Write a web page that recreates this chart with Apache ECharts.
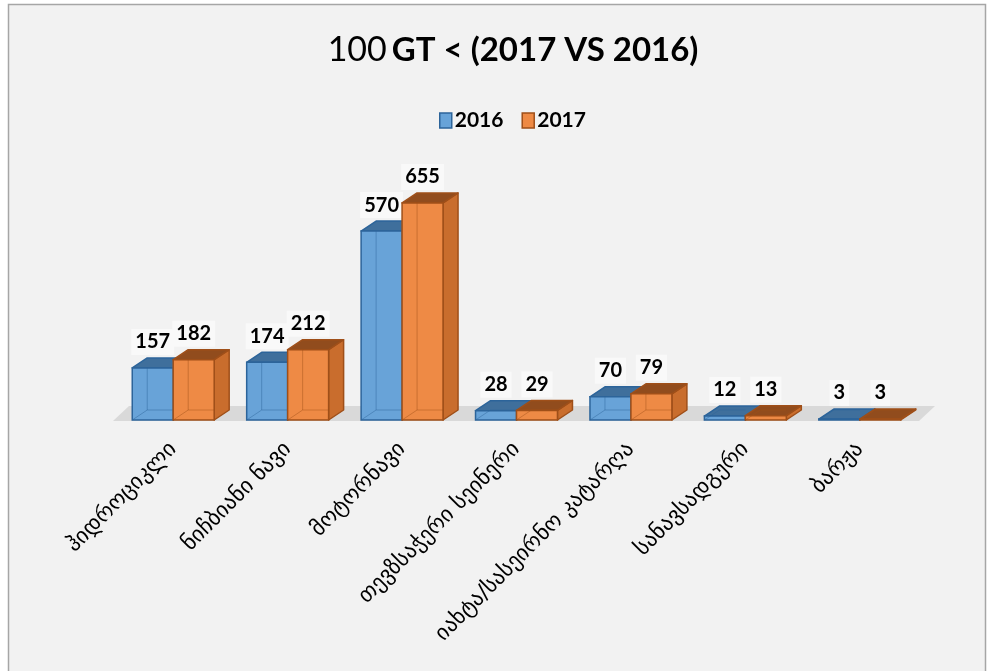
<!DOCTYPE html>
<html>
<head>
<meta charset="utf-8">
<script src="https://cdn.jsdelivr.net/npm/echarts@6/dist/echarts.min.js"></script>
<style>
    html, body { margin: 0; padding: 0; background: #ffffff; }
    #container { width: 994px; height: 671px; }
</style>
</head>
<body>
<div id="container"></div>
<script>
// 数据
var categories = ['ჰიდროციკლი', 'ნიჩბიანი ნავი', 'მოტორნავი', 'თევზსაჭერი სეინერი', 'იახტა/სასეირნო კატარღა', 'სანავსადგური', 'ბარჟა']
var values2016 = [157, 174, 570, 28, 70, 12, 3]
var values2017 = [182, 212, 655, 29, 79, 13, 3]
var seriesNames = ['2016', '2017']

var log = console.log.bind(console)

// 3D 柱子的颜色
var palette = {
    '2016': { front: '#68a3d8', side: '#4f86ba', top: '#3f6f9c', stroke: '#2c649a', inner: 'rgba(44,100,154,0.45)' },
    '2017': { front: '#ee8a45', side: '#c96d2d', top: '#914c1d', stroke: '#9f4f19', inner: 'rgba(159,79,25,0.45)' },
}

var depthX = 15
var depthY = -10

var barRender = function (pos, c) {
    return function (params, api) {
        var idx = api.value(0)
        var v = api.value(1)
        var base = api.coord([idx, 0])
        var top = api.coord([idx, v])
        var band = api.size([1, 0])[0]
        var w = band * 0.358
        var x0 = pos == 0 ? base[0] - w : base[0]
        var x1 = x0 + w
        var yb = base[1]
        var yt = top[1]
        var dx = depthX
        var dy = depthY
        return {
            type: 'group',
            children: [
                {
                    type: 'polygon',
                    shape: { points: [[x1, yb], [x1 + dx, yb + dy], [x1 + dx, yt + dy], [x1, yt]] },
                    style: { fill: c.side, stroke: c.stroke, lineWidth: 1.5, lineJoin: 'round' },
                },
                {
                    type: 'polygon',
                    shape: { points: [[x0, yt], [x0 + dx, yt + dy], [x1 + dx, yt + dy], [x1, yt]] },
                    style: { fill: c.top, stroke: c.stroke, lineWidth: 1.5, lineJoin: 'round' },
                },
                {
                    type: 'rect',
                    shape: { x: x0, y: yt, width: w, height: yb - yt },
                    style: { fill: c.front, stroke: c.stroke, lineWidth: 1.5 },
                },
                // 透明感的内侧边
                {
                    type: 'polyline',
                    shape: { points: [[x0 + dx, Math.min(yt, yb + dy)], [x0 + dx, yb + dy], [x1, yb + dy]] },
                    style: { fill: null, stroke: c.inner, lineWidth: 1 },
                    silent: true,
                },
                {
                    type: 'line',
                    shape: { x1: x0, y1: yb, x2: x0 + dx, y2: yb + dy },
                    style: { stroke: c.inner, lineWidth: 1 },
                    silent: true,
                },
                {
                    type: 'text',
                    z2: 10,
                    style: {
                        text: String(v),
                        x: (x0 + x1) / 2,
                        y: yt + dy - 16,
                        align: 'center',
                        verticalAlign: 'middle',
                        font: 'bold 20px Lato, "Open Sans", sans-serif',
                        fill: '#000000',
                        backgroundColor: '#f9f9f9',
                        padding: [3, 4, 3, 4],
                        boxShadowBlur: 8,
                        boxShadowOffsetX: 5,
                        boxShadowColor: 'rgba(0,0,0,0.3)',
                    },
                },
            ],
        }
    }
}

var floorRender = function (params, api) {
    var cs = params.coordSys
    var yf = cs.y + cs.height + 1
    var xl = cs.x - 3
    var xr = cs.x + cs.width + 2
    return {
        type: 'polygon',
        silent: true,
        shape: { points: [[xl, yf], [xl + 16, yf - 15], [xr + 16, yf - 15], [xr, yf]] },
        style: { fill: '#d9d9d9' },
    }
}

var makeData = function (values) {
    var data = []
    for (var i = 0; i < values.length; i++) {
        data.push([i, values[i]])
    }
    return data
}

var chartInit = function () {
    var myChart = echarts.init(document.getElementById('container'))

    var option = {
        backgroundColor: '#ffffff',
        graphic: [{
            type: 'rect',
            silent: true,
            z: -10,
            shape: { x: 8.5, y: 4.5, width: 977, height: 680 },
            style: { fill: '#f2f2f2', stroke: '#a6a6a6', lineWidth: 1.5 },
        }],
        title: {
            text: '{a|100} {b|GT < (2017 VS 2016)}',
            left: 508,
            textAlign: 'center',
            top: 28,
            textStyle: {
                rich: {
                    a: { fontSize: 34, fontWeight: 'normal', fontFamily: 'Lato', color: '#000' },
                    b: { fontSize: 33, fontWeight: 'bold', fontFamily: 'Lato', color: '#000' },
                },
            },
        },
        legend: {
            data: seriesNames.map(function (n) {
                return { name: n, itemStyle: { color: palette[n].front, borderColor: palette[n].stroke, borderWidth: 1.5 } }
            }),
            left: 434,
            top: 105,
            icon: 'rect',
            itemWidth: 12,
            itemHeight: 15,
            itemGap: 18,
            textStyle: { fontSize: 21, fontWeight: 'bold', fontFamily: 'Lato', color: '#000', padding: [0, 0, 0, -2] },
        },
        grid: { left: 116, right: 77, top: 188, bottom: 251 },
        xAxis: {
            type: 'category',
            data: categories,
            axisLine: { show: false },
            axisTick: { show: false },
            axisLabel: {
                rotate: 45,
                interval: 0,
                margin: 26,
                fontSize: 22,
                fontFamily: '"DejaVu Sans", "Noto Sans", sans-serif',
                color: '#000',
            },
        },
        yAxis: {
            type: 'value',
            min: 0,
            max: 700,
            show: false,
            splitLine: { show: false },
        },
        series: [
            {
                name: 'floor',
                type: 'custom',
                z: 1,
                renderItem: floorRender,
                data: [[0, 0]],
            },
            {
                name: seriesNames[0],
                type: 'custom',
                z: 2,
                itemStyle: { color: palette['2016'].front },
                renderItem: barRender(0, palette['2016']),
                data: makeData(values2016),
            },
            {
                name: seriesNames[1],
                type: 'custom',
                z: 3,
                itemStyle: { color: palette['2017'].front },
                renderItem: barRender(1, palette['2017']),
                data: makeData(values2017),
            },
        ],
    }

    myChart.setOption(option, true)
}

chartInit()
</script>
</body>
</html>
